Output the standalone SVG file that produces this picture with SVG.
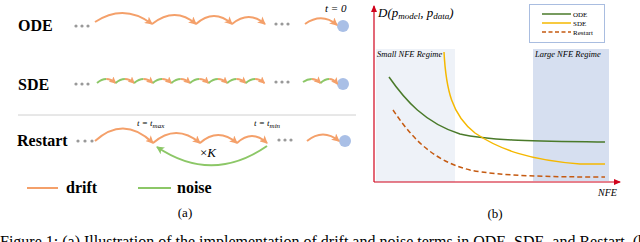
<svg xmlns="http://www.w3.org/2000/svg" width="640" height="242" viewBox="0 0 640 242">
<defs>
<marker id="ah" markerUnits="userSpaceOnUse" markerWidth="9" markerHeight="8" refX="7" refY="4" orient="auto"><path d="M0,0 L8,4 L0,8 L2,4 z" fill="#f4a06a"/></marker>
<marker id="ahs" markerUnits="userSpaceOnUse" markerWidth="8" markerHeight="7" refX="6" refY="3.5" orient="auto"><path d="M0,0 L7,3.5 L0,7 L1.5,3.5 z" fill="#f4a06a"/></marker>
<marker id="ahg" markerUnits="userSpaceOnUse" markerWidth="9" markerHeight="8" refX="7" refY="4" orient="auto"><path d="M0,0 L8,4 L0,8 L2,4 z" fill="#8cc767"/></marker>
<marker id="ahr" markerUnits="userSpaceOnUse" markerWidth="8" markerHeight="8" refX="6" refY="3" orient="auto"><path d="M0,0 L7,3 L0,6 z" fill="#d0021b"/></marker>
</defs>
<style>
.lbl{font-family:"Liberation Serif","Times New Roman",serif;font-weight:bold;font-size:16px;fill:#000}
.it{font-family:"Liberation Serif","Times New Roman",serif;font-style:italic;fill:#000}
.rm{font-family:"Liberation Serif","Times New Roman",serif;fill:#000}
.dr{fill:none;stroke:#f4a06a;stroke-width:2}
.ns{fill:none;stroke:#8cc767;stroke-width:2}
.dot{fill:#999}
.end{fill:#a9bfe6}
</style>
<rect width="640" height="242" fill="#fff"/>

<g id="panel-a">
<g id="ode">
<text class="lbl" x="18" y="31">ODE</text>
<circle class="dot" cx="76" cy="26" r="1.6"/><circle class="dot" cx="82" cy="26" r="1.6"/><circle class="dot" cx="88" cy="26" r="1.6"/>
<circle class="dot" cx="276" cy="24" r="1.6"/><circle class="dot" cx="282" cy="24" r="1.6"/><circle class="dot" cx="288" cy="24" r="1.6"/>
<circle class="end" cx="343" cy="26" r="6"/>
<text class="it" x="325" y="12" font-size="11">t = 0</text>
</g>
<g id="sde">
<text class="lbl" x="18" y="90">SDE</text>
<circle class="dot" cx="76" cy="84" r="1.6"/><circle class="dot" cx="82" cy="84" r="1.6"/><circle class="dot" cx="88" cy="84" r="1.6"/>
<circle class="dot" cx="276" cy="82" r="1.6"/><circle class="dot" cx="282" cy="82" r="1.6"/><circle class="dot" cx="288" cy="82" r="1.6"/>
<circle class="end" cx="343" cy="84" r="6"/>
</g>
<line x1="18" y1="115" x2="356" y2="115" stroke="#d0d0d0" stroke-width="1"/>
<g id="restart">
<text class="lbl" x="17" y="146">Restart</text>
<circle class="dot" cx="78" cy="141" r="1.6"/><circle class="dot" cx="85" cy="141" r="1.6"/><circle class="dot" cx="92" cy="141" r="1.6"/>
<circle class="dot" cx="279" cy="140" r="1.6"/><circle class="dot" cx="285" cy="140" r="1.6"/><circle class="dot" cx="291" cy="140" r="1.6"/>
<circle class="end" cx="345" cy="141" r="6"/>
<text class="it" x="137" y="126" font-size="9">t = t<tspan font-size="7" dy="1.5">max</tspan></text>
<text class="it" x="254" y="126" font-size="9">t = t<tspan font-size="7" dy="1.5">min</tspan></text>
<text class="rm" x="200" y="157" font-size="13">×<tspan font-style="italic">K</tspan></text>
</g>
<g id="legend-a">
<line x1="27" y1="188" x2="58" y2="188" class="dr"/>
<text class="lbl" x="66" y="193">drift</text>
<line x1="138" y1="188" x2="171" y2="188" class="ns"/>
<text class="lbl" x="177" y="193">noise</text>
</g>
<text class="rm" x="185" y="217" font-size="13" text-anchor="middle">(a)</text>
</g>

<g id="connectors">
<path class="dr" d="M95,22 Q124,3 152,24" marker-end="url(#ah)"/>
<path class="dr" d="M152,24 Q175,6 196,24" marker-end="url(#ah)"/>
<path class="dr" d="M196,24 Q214,8 232,24" marker-end="url(#ah)"/>
<path class="dr" d="M232,24 Q249,10 265,24" marker-end="url(#ah)"/>
<path class="dr" d="M305,24 Q322,12 337,25" marker-end="url(#ah)"/>

<path class="ns" d="M97,83 Q101.6,79 106.3,79"/><path class="dr" d="M106.3,79 Q111,79 115.6,83" marker-end="url(#ahs)"/>
<path class="ns" d="M115.6,83 Q120.2,79 124.9,79"/><path class="dr" d="M124.9,79 Q129.6,79 134.2,83" marker-end="url(#ahs)"/>
<path class="ns" d="M134.2,83 Q138.8,79 143.5,79"/><path class="dr" d="M143.5,79 Q148.2,79 152.8,83" marker-end="url(#ahs)"/>
<path class="ns" d="M152.8,83 Q157.4,79 162.1,79"/><path class="dr" d="M162.1,79 Q166.8,79 171.4,83" marker-end="url(#ahs)"/>
<path class="ns" d="M171.4,83 Q176,79 180.7,79"/><path class="dr" d="M180.7,79 Q185.4,79 190,83" marker-end="url(#ahs)"/>
<path class="ns" d="M190,83 Q194.6,79 199.3,79"/><path class="dr" d="M199.3,79 Q204,79 208.6,83" marker-end="url(#ahs)"/>
<path class="ns" d="M208.6,83 Q213.2,79 217.9,79"/><path class="dr" d="M217.9,79 Q222.6,79 227.2,83" marker-end="url(#ahs)"/>
<path class="ns" d="M227.2,83 Q231.8,79 236.5,79"/><path class="dr" d="M236.5,79 Q241.2,79 245.8,83" marker-end="url(#ahs)"/>
<path class="ns" d="M245.8,83 Q250.4,79 255.1,79"/><path class="dr" d="M255.1,79 Q259.8,79 264.4,83" marker-end="url(#ahs)"/>
<path class="ns" d="M303,82 Q307.4,79 311.8,79"/><path class="dr" d="M311.8,79 Q316.2,79 320.5,83" marker-end="url(#ahs)"/>
<path class="ns" d="M320.5,83 Q324.9,79 329.2,79"/><path class="dr" d="M329.2,79 Q333.6,79 337.5,84" marker-end="url(#ahs)"/>

<path class="dr" d="M95,141 Q124,115 153,143" marker-end="url(#ah)"/>
<path class="dr" d="M153,143 Q176,123 200,143" marker-end="url(#ah)"/>
<path class="dr" d="M200,143 Q218,127 237,143" marker-end="url(#ah)"/>
<path class="dr" d="M237,143 Q252,129 267,143" marker-end="url(#ah)"/>
<path class="dr" d="M307,141 Q323,128 339,141" marker-end="url(#ah)"/>
<path class="ns" d="M267,146 Q212,184 157,147" marker-end="url(#ahg)"/>
</g>

<g id="panel-b">
<rect x="376" y="49" width="79" height="133" fill="#eef2f8"/>
<rect x="533" y="49" width="76" height="132" fill="#d6dff0"/>
<text class="it" x="377" y="57" font-size="8.5">Small NFE Regime</text>
<text class="it" x="535" y="57" font-size="8.5">Large NFE Regime</text>
<g id="legend-b">
<rect x="529.5" y="4.5" width="75" height="38" fill="#fff" stroke="#a9bde0" stroke-width="1"/>
<line x1="542" y1="14" x2="571" y2="14" stroke="#4a7a2a" stroke-width="1.5"/>
<line x1="542" y1="23" x2="571" y2="23" stroke="#f5b800" stroke-width="1.5"/>
<line x1="542" y1="32" x2="571" y2="32" stroke="#c55a11" stroke-width="1.5" stroke-dasharray="4,2.5"/>
<text class="rm" x="573" y="16.5" font-size="7">ODE</text>
<text class="rm" x="573" y="25.5" font-size="7">SDE</text>
<text class="rm" x="573" y="34.5" font-size="7">Restart</text>
</g>
<path d="M389,77 C405,100 425,123 460,134 C490,141 540,141 605,142" fill="none" stroke="#4a7a2a" stroke-width="1.5"/>
<path d="M444,52 C446,90 452,115 475,133 C500,150 530,160 580,164 L605,164" fill="none" stroke="#f5b800" stroke-width="1.5"/>
<path d="M393,110 C410,135 430,160 470,170 C500,176 550,177 605,177" fill="none" stroke="#c55a11" stroke-width="1.5" stroke-dasharray="5,3"/>
<line x1="374" y1="182" x2="374" y2="6" stroke="#d0021b" stroke-width="1.2" marker-end="url(#ahr)"/>
<line x1="374" y1="182" x2="620" y2="182" stroke="#d0021b" stroke-width="1.2" marker-end="url(#ahr)"/>
<text class="it" x="378" y="17" font-size="13">D(p<tspan font-size="9" dy="2">model</tspan><tspan dy="-2">, p</tspan><tspan font-size="9" dy="2">data</tspan><tspan dy="-2">)</tspan></text>
<text class="it" x="598" y="196" font-size="10">NFE</text>
<text class="rm" x="495" y="218" font-size="13" text-anchor="middle">(b)</text>
</g>
<text class="rm" x="0" y="247" font-size="16">Figure 1: (a) Illustration of the implementation of drift and noise terms in ODE, SDE, and Restart. (b)</text>
</svg>
